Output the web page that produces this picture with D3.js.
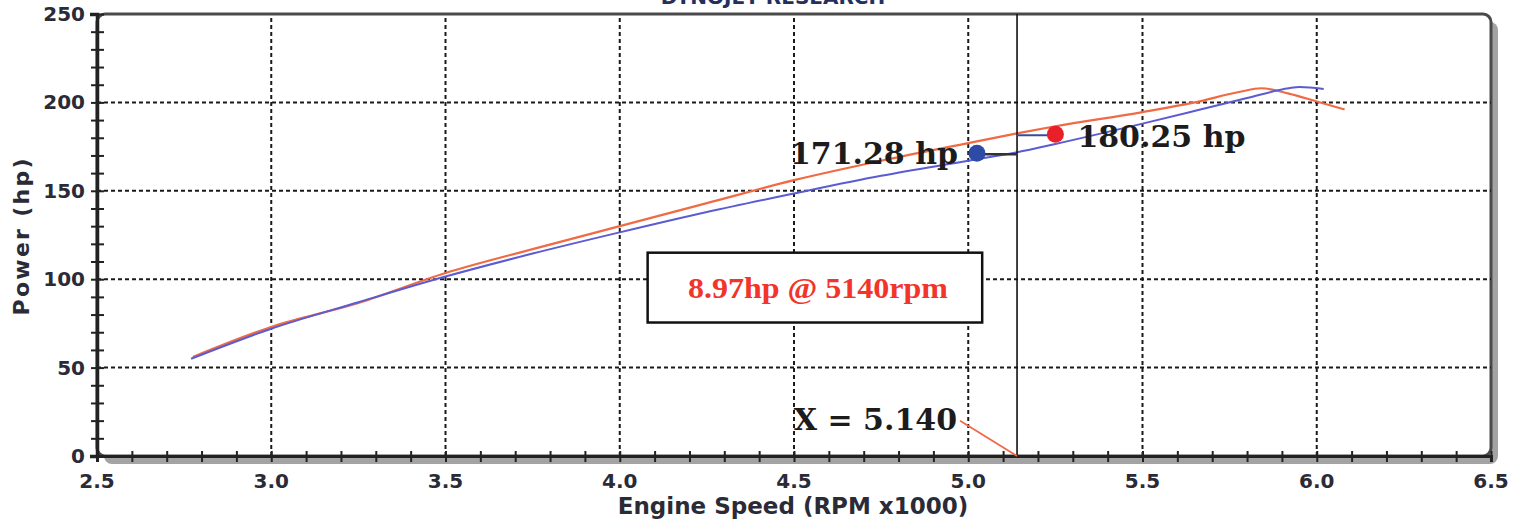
<!DOCTYPE html>
<html>
<head>
<meta charset="utf-8">
<script src="https://cdn.jsdelivr.net/npm/d3@7"></script>
<style>
  body { margin: 0; background: #fff; }
  svg { display: block; }
</style>
</head>
<body>
<div id="graph1"></div>
<script>
// rpm (x1000) and power (hp) for the two runs
let red_rpm   = [2.775, 3.0, 3.25, 3.5, 3.75, 4.0, 4.25, 4.5, 4.75, 5.0, 5.14, 5.25, 5.5, 5.65, 5.78, 5.84, 5.92, 6.0, 6.08];
let red_hp    = [56, 73, 86.5, 103.5, 117, 130, 143, 156, 167, 177, 182.5, 186.5, 194.5, 200, 206, 208, 205, 200.5, 196];
let blue_rpm  = [2.77, 3.0, 3.25, 3.5, 3.75, 4.0, 4.25, 4.5, 4.75, 5.0, 5.14, 5.25, 5.5, 5.66, 5.8, 5.92, 5.95, 6.02];
let blue_hp   = [55, 72, 87, 101.5, 114.5, 126.5, 138, 148.5, 158.5, 167, 171.8, 176.5, 188, 195.7, 202.5, 208, 208.7, 207.6];

let x_ticks = [2.5, 3.0, 3.5, 4.0, 4.5, 5.0, 5.5, 6.0, 6.5];
let y_ticks = [0, 50, 100, 150, 200, 250];

// cursor + peak markers
let cursor_rpm = 5.140;
let blue_mark = {rpm: 5.025, hp: 171.28, label: "171.28 hp"};
let red_mark  = {rpm: 5.25,  hp: 182,    label: "180.25 hp"};
let diff_text = "8.97hp @ 5140rpm";

let width = 1528, height = 523;
let margin = {left: 97, right: 37, top: 14, bottom: 67};

let svg = d3.select("#graph1")
    .append("svg")
    .attr("width", width)
    .attr("height", height);

let x = d3.scaleLinear()
    .domain([2.5, 6.5])
    .range([margin.left, width - margin.right]);

let y = d3.scaleLinear()
    .domain([0, 250])
    .range([height - margin.bottom, margin.top]);

let x0 = x(2.5), x1 = x(6.5), y0 = y(0), y1 = y(250);

// title, mostly cut off at the top like the original sheet
svg.append("text")
    .attr("x", 773)
    .attr("y", 4)
    .style("text-anchor", "middle")
    .style("font-family", "DejaVu Sans")
    .style("font-weight", "bold")
    .style("font-size", "20px")
    .style("fill", "#23305e")
    .text("DYNOJET RESEARCH");

// frame: shadow, then white panel with rounded border
svg.append("rect")
    .attr("x", x0 + 7).attr("y", y1 + 8)
    .attr("width", x1 - x0).attr("height", y0 - y1)
    .attr("rx", 8)
    .attr("fill", "#a3a3a3");

svg.append("rect")
    .attr("x", x0).attr("y", y1)
    .attr("width", x1 - x0).attr("height", y0 - y1)
    .attr("rx", 8)
    .attr("fill", "#fff")
    .attr("stroke", "#4a4a4a")
    .attr("stroke-width", 3);

// dashed grid
let grid = svg.append("g")
    .attr("stroke", "#1a1a1a")
    .attr("stroke-width", 2)
    .attr("stroke-dasharray", "4,3");

grid.selectAll("line.v")
    .data(x_ticks.filter(d => d > 2.5 && d < 6.5))
    .enter().append("line")
    .attr("x1", d => x(d)).attr("x2", d => x(d))
    .attr("y1", y1 + 4).attr("y2", y0);

grid.selectAll("line.h")
    .data(y_ticks.filter(d => d > 0 && d < 250))
    .enter().append("line")
    .attr("x1", x0).attr("x2", x1)
    .attr("y1", d => y(d)).attr("y2", d => y(d));

// axes with minor ticks
let yAxis = svg.append("g")
    .attr("transform", `translate(${x0},0)`)
    .call(d3.axisLeft(y).tickValues(d3.range(0, 251, 10)).tickSize(7).tickFormat(""));
yAxis.selectAll(".tick line").attr("x2", 7).attr("x1", -6).attr("stroke", "#222").attr("stroke-width", 2);
yAxis.select(".domain").attr("stroke", "#222").attr("stroke-width", 3.5);

let xAxis = svg.append("g")
    .attr("transform", `translate(0,${y0})`)
    .call(d3.axisBottom(x).tickValues(d3.range(25, 66).map(d => d / 10)).tickFormat(""));
xAxis.selectAll(".tick line").attr("y1", -5).attr("y2", 6).attr("stroke", "#222").attr("stroke-width", 2);
xAxis.select(".domain").attr("stroke", "#222").attr("stroke-width", 3);

// tick labels
let labelStyle = function(sel, size) {
    sel.style("font-family", "DejaVu Sans")
       .style("font-weight", "bold")
       .style("font-size", size)
       .style("fill", "#2b2b38");
};

svg.append("g").selectAll("text")
    .data(y_ticks)
    .enter().append("text")
    .attr("x", x0 - 12)
    .attr("y", d => y(d) + 7)
    .style("text-anchor", "end")
    .call(labelStyle, "20px")
    .text(d => d);

svg.append("g").selectAll("text")
    .data(x_ticks)
    .enter().append("text")
    .attr("x", d => x(d))
    .attr("y", y0 + 32)
    .style("text-anchor", "middle")
    .call(labelStyle, "20px")
    .text(d => d.toFixed(1));

// axis titles
svg.append("text")
    .attr("x", 793)
    .attr("y", 514)
    .style("text-anchor", "middle")
    .call(labelStyle, "23px")
    .text("Engine Speed (RPM x1000)");

svg.append("text")
    .attr("transform", "translate(29,237) rotate(-90)")
    .style("text-anchor", "middle")
    .attr("textLength", 157)
    .call(labelStyle, "22px")
    .text("Power (hp)");

// power curves
let line = d3.line()
    .x(d => x(d[0]))
    .y(d => y(d[1]))
    .curve(d3.curveMonotoneX);

svg.append("path")
    .datum(red_rpm.map((r, i) => [r, red_hp[i]]))
    .attr("d", line)
    .attr("fill", "none")
    .attr("stroke", "#f06a44")
    .attr("stroke-width", 2.2);

svg.append("path")
    .datum(blue_rpm.map((r, i) => [r, blue_hp[i]]))
    .attr("d", line)
    .attr("fill", "none")
    .attr("stroke", "#5b5bd2")
    .attr("stroke-width", 2);

// cursor line
svg.append("line")
    .attr("x1", x(cursor_rpm)).attr("x2", x(cursor_rpm))
    .attr("y1", y1).attr("y2", y0)
    .attr("stroke", "#111")
    .attr("stroke-width", 1.6);

// leader lines from markers to the cursor
svg.append("line")
    .attr("x1", x(blue_mark.rpm)).attr("x2", x(cursor_rpm))
    .attr("y1", y(blue_mark.hp) + 1).attr("y2", y(blue_mark.hp) + 1)
    .attr("stroke", "#333")
    .attr("stroke-width", 2.5);

svg.append("line")
    .attr("x1", x(cursor_rpm)).attr("x2", x(red_mark.rpm))
    .attr("y1", y(red_mark.hp) + 1).attr("y2", y(red_mark.hp) + 1)
    .attr("stroke", "#3a4a9a")
    .attr("stroke-width", 2);

svg.append("circle")
    .attr("cx", x(blue_mark.rpm)).attr("cy", y(blue_mark.hp))
    .attr("r", 8.5)
    .attr("fill", "#2d4aa6");

svg.append("circle")
    .attr("cx", x(red_mark.rpm)).attr("cy", y(red_mark.hp))
    .attr("r", 8.5)
    .attr("fill", "#e8202a");

let markStyle = function(sel) {
    sel.style("font-family", "DejaVu Serif")
       .style("font-weight", "bold")
       .style("font-size", "30px")
       .style("fill", "#1c1c1c");
};

svg.append("text")
    .attr("x", x(blue_mark.rpm) - 19)
    .attr("y", y(blue_mark.hp) + 11)
    .style("text-anchor", "end")
    .call(markStyle)
    .text(blue_mark.label);

svg.append("text")
    .attr("x", x(red_mark.rpm) + 22)
    .attr("y", y(red_mark.hp) + 13)
    .style("text-anchor", "start")
    .call(markStyle)
    .text(red_mark.label);

// cursor readout
svg.append("line")
    .attr("x1", x(cursor_rpm) - 57).attr("x2", x(cursor_rpm))
    .attr("y1", y(20)).attr("y2", y0)
    .attr("stroke", "#f06a44")
    .attr("stroke-width", 1.8);

svg.append("text")
    .attr("x", x(cursor_rpm) - 60)
    .attr("y", y(14.5))
    .style("text-anchor", "end")
    .call(markStyle)
    .text("X = " + cursor_rpm.toFixed(3));

// difference box
let bx0 = x(4.08), bx1 = x(5.04), by0 = y(115), by1 = y(75.5);
svg.append("rect")
    .attr("x", bx0).attr("y", by0)
    .attr("width", bx1 - bx0).attr("height", by1 - by0)
    .attr("fill", "#fff")
    .attr("stroke", "#111")
    .attr("stroke-width", 2.5);

svg.append("text")
    .attr("x", (bx0 + bx1) / 2 + 3)
    .attr("y", (by0 + by1) / 2 + 10)
    .style("text-anchor", "middle")
    .style("font-family", "Liberation Serif")
    .style("font-weight", "bold")
    .style("font-size", "29px")
    .style("fill", "#f2342a")
    .attr("textLength", 260)
    .attr("lengthAdjust", "spacingAndGlyphs")
    .text(diff_text);
</script>
</body>
</html>
